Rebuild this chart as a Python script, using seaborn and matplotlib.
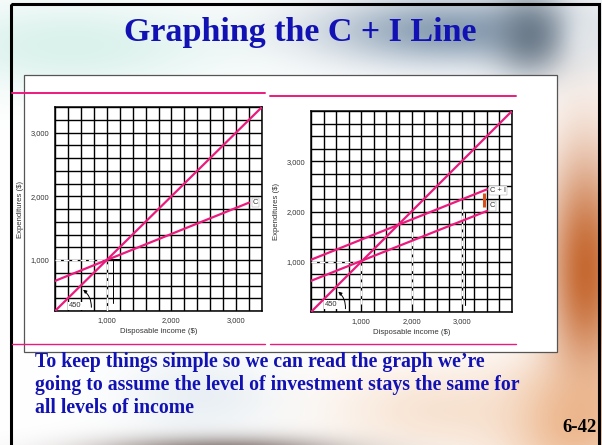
import numpy as np
import pandas as pd
import matplotlib
matplotlib.use("Agg")
import matplotlib.pyplot as plt
import seaborn as sns
from matplotlib.patches import Rectangle, FancyArrowPatch

# --- data ---
tick_vals = [1000, 2000, 3000]
tick_labels = ["1,000", "2,000", "3,000"]

# left panel: 45 degree line and consumption line
left_45_x = [200, 3400]
left_45_y = [200, 3400]
left_c_x = [200, 3200]
left_c_y = [672, 1900]

# right panel: 45 degree line, C and C + I
right_45_x = [0, 4000]
right_45_y = [0, 4000]
right_c_x = [0, 3500]
right_c_y = [620, 2010]
right_ci_x = [0, 3500]
right_ci_y = [1040, 2440]
invest_gap = [2080, 2360]   # orange bar between C and C + I at x=3450

title = "Graphing the C + I Line"
body = ["To keep things simple so we can read the graph we\u2019re",
        "going to assume the level of investment stays the same for",
        "all levels of income"]

PINK = "#ec1a7d"
BLUE = "#1212b4"

sns.set_theme(style="white")
plt.rcParams["font.family"] = ["Liberation Sans", "DejaVu Sans"]

W, H = 602, 445
fig = plt.figure(figsize=(W / 100, H / 100), dpi=100)

# ---------- slide background ----------
yy, xx = np.mgrid[0:H, 0:W].astype(float)
img = np.ones((H, W, 3))


def blend(color, w):
    c = np.array(matplotlib.colors.to_rgb(color))
    w = np.clip(w, 0, 1)[..., None]
    img[:] = img * (1 - w) + c * w


def blob(cx, cy, sx, sy):
    return np.exp(-(((xx - cx) / sx) ** 2 + ((yy - cy) / sy) ** 2))


blend("#d6f0ea", blob(70, 45, 150, 45) * 0.9)
blend("#8a9fb4", blob(450, 30, 130, 35) * 1.0)
blend("#5d6d7d", blob(530, 35, 35, 40) * 0.8)
blend("#e8eef2", blob(585, 40, 20, 40) * 0.7)
blend("#c66a33", blob(585, 270, 40, 120) * 1.0)
blend("#e9a774", blob(570, 420, 70, 60) * 0.8)
blend("#f3d2b6", blob(440, 410, 110, 45) * 0.6)
blend("#6b5a54", blob(220, 452, 120, 16) * 0.9)
blend("#c9d9e4", blob(200, 395, 80, 40) * 0.4)

bg = fig.add_axes([0, 0, 1, 1])
bg.imshow(img, extent=(0, W, H, 0), aspect="auto")
bg.set_xlim(0, W)
bg.set_ylim(H, 0)
bg.axis("off")

# black slide frame
bg.add_patch(Rectangle((11, 4), 588, 460, fill=False, ec="black", lw=2.2))
# white panel holding the figures
bg.add_patch(Rectangle((24, 75), 533, 277, fc="white", ec="#555555", lw=0.9))
# pink rules above and below the figures
bg.plot([12, 265], [93, 93], color=PINK, lw=1.4)
bg.plot([270, 516], [96, 96], color=PINK, lw=1.4)
bg.plot([12, 265], [344, 344], color=PINK, lw=1.0)
bg.plot([270, 516], [344, 344], color=PINK, lw=1.0)

bg.text(300, 33, title, ha="center", va="center", fontsize=24.5,
        fontweight="bold", color=BLUE, family="Liberation Serif")
for i, line in enumerate(body):
    bg.text(35, 362 + i * 23, line, ha="left", va="center", fontsize=14.2,
            fontweight="bold", color=BLUE, family="Liberation Serif")
bg.text(597, 428, "6-42", ha="right", va="center", fontsize=13.5,
        fontweight="bold", color="black", family="Liberation Serif")


# ---------- the two graphs ----------
def setup(ax, lo, hi, step):
    ax.set_xlim(lo, hi)
    ax.set_ylim(lo, hi)
    ax.set_xticks(tick_vals)
    ax.set_yticks(tick_vals)
    ax.set_xticklabels(tick_labels)
    ax.set_yticklabels(tick_labels)
    minor = np.arange(lo, hi + 1, step)
    ax.set_xticks(minor, minor=True)
    ax.set_yticks(minor, minor=True)
    ax.grid(True, which="both", color="black", lw=1.0)
    ax.tick_params(which="both", length=0, labelsize=5.4, colors="#333333", pad=4)
    for s in ax.spines.values():
        s.set_color("black")
        s.set_linewidth(1.1)
    ax.set_facecolor("white")
    ax.set_xlabel("Disposable income ($)", fontsize=5.6, color="#333333", labelpad=3)
    ax.set_ylabel("Expenditures ($)", fontsize=5.6, color="#333333", labelpad=5)
    ax.set_axisbelow(True)


def pink_line(ax, x, y):
    sns.lineplot(x=x, y=y, ax=ax, color=PINK, lw=1.6, sort=False,
                 estimator=None, zorder=5)


def tag(ax, x, y, s):
    ax.text(x, y, s, fontsize=5.4, color="#333333", ha="left", va="center", zorder=7,
            bbox=dict(fc="white", ec="#999999", lw=0.3, pad=0.8))


# left graph
axL = fig.add_axes([55 / W, 1 - 311 / H, 207 / W, 204 / H])
setup(axL, 200, 3400, 200)
axL.plot([200, 1000], [1000, 1000], color="white", lw=1.0, ls=(0, (4, 2)), zorder=3)
axL.plot([1000, 1000], [200, 1000], color="white", lw=1.0, ls=(0, (4, 2)), zorder=3)
axL.plot([1000, 1200], [1000, 1000], color="black", lw=1.4, zorder=3)
axL.plot([1100, 1100], [330, 1000], color="black", lw=0.7, zorder=3)
pink_line(axL, left_45_x, left_45_y)
pink_line(axL, left_c_x, left_c_y)
tag(axL, 3260, 1900, "C")
axL.text(420, 280, "450", fontsize=5.4, color="#333333", ha="left", va="center", zorder=7,
         bbox=dict(fc="white", ec="none", pad=0.6))
axL.add_patch(FancyArrowPatch((760, 215), (600, 560), connectionstyle="arc3,rad=0.3",
                              arrowstyle="-|>", mutation_scale=5, lw=0.7,
                              color="black", zorder=6))

# right graph
axR = fig.add_axes([311 / W, 1 - 312 / H, 201 / W, 201 / H])
setup(axR, 0, 4000, 250)
for xv, top in [(1000, 1000), (2000, 1660), (3000, 2050)]:
    axR.plot([xv, xv], [160, top], color="white", lw=1.0, ls=(0, (4, 2)), zorder=3)
axR.plot([0, 1000], [1000, 1000], color="white", lw=1.0, ls=(0, (4, 2)), zorder=3)
for xv, bot, top in [(1500, 240, 1000), (2240, 230, 1560), (3060, 130, 1970)]:
    axR.plot([xv, xv], [bot, top], color="black", lw=0.8, zorder=3)
pink_line(axR, right_45_x, right_45_y)
pink_line(axR, right_c_x, right_c_y)
pink_line(axR, right_ci_x, right_ci_y)
axR.plot([3450, 3450], invest_gap, color="#d4501c", lw=2.2, solid_capstyle="butt", zorder=6)
tag(axR, 3560, 2420, "C + I")
tag(axR, 3560, 2110, "C")
axR.text(280, 150, "450", fontsize=5.4, color="#333333", ha="left", va="center", zorder=7,
         bbox=dict(fc="white", ec="none", pad=0.6))
axR.add_patch(FancyArrowPatch((680, 10), (500, 440), connectionstyle="arc3,rad=0.3",
                              arrowstyle="-|>", mutation_scale=5, lw=0.7,
                              color="black", zorder=6))

fig.savefig("out.png", dpi=100)
